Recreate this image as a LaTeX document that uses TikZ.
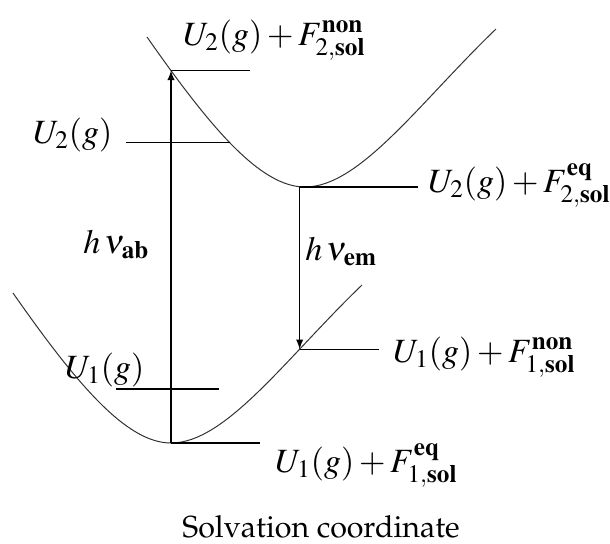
\documentclass[tikz,border=0pt]{standalone}
\usepackage[T1]{fontenc}
\usepackage{mathptmx}
\usetikzlibrary{arrows}

\begin{document}
\begin{tikzpicture}[x=0.5pt,y=-0.5pt,
  curve/.style={draw=black!80, line width=0.5pt},
  level/.style={draw=black, line width=0.65pt},
  lab/.style={anchor=base west, inner sep=0pt, font=\fontsize{17}{20}\selectfont}]
\useasboundingbox (0,0) rectangle (610,543);
\coordinate (m2) at (305,187);
\coordinate (m1) at (171,443);
% upper well
\draw[curve, shift={(m2)}] (-158,-150) .. controls (-95,-60) and (-45,0) .. coordinate[pos=0.13] (a2) coordinate[pos=0.48] (g2) (0,0)
  .. controls (55,0) and (115,-85) .. (191,-158);
% lower well
\draw[curve, shift={(m1)}] (-158,-150) .. controls (-95,-60) and (-45,0) .. (0,0)
  .. controls (55,0) and (115,-85) .. coordinate[pos=0.71] (e1) (191,-158);

% levels
\draw[level] (m1 |- a2) -- +(79,0);
\draw[level] (g2) -- ++(-104,0);
\draw[level] (e1 |- m2) -- +(118,0);
\draw[level] (e1) -- +(79,0);
\draw[level] (116,389) -- (219,389);
\draw[level] (m1) -- +(89,0);

% transitions
\draw[level,-latex] (m1) -- (m1 |- a2);
\draw[level,-latex] (e1 |- m2) -- (e1);

\node[lab] (non2) at (183,45) {$U_2(g)+F^{\mathbf{non}}_{2,\mathbf{sol}}$};
\node[lab] (gas2) at (33,143) {$U_2(g)$};
\node[lab] (eq2) at (428,192) {$U_2(g)+F^{\mathbf{eq}}_{2,\mathbf{sol}}$};
\node[lab] (ab) at (83,253) {$h\,\nu_{\mathbf{ab}}$};
\node[lab] (em) at (305,260) {$h\,\nu_{\mathbf{em}}$};
\node[lab] (non1) at (393,362) {$U_1(g)+F^{\mathbf{non}}_{1,\mathbf{sol}}$};
\node[lab] (gas1) at (65,378) {$U_1(g)$};
\node[lab] (eq1) at (275,472) {$U_1(g)+F^{\mathbf{eq}}_{1,\mathbf{sol}}$};
\node[anchor=base west, inner sep=0pt, font=\fontfamily{ppl}\fontsize{15.2}{18}\selectfont] (axis) at (182,537) {Solvation coordinate};
\end{tikzpicture}
\end{document}
